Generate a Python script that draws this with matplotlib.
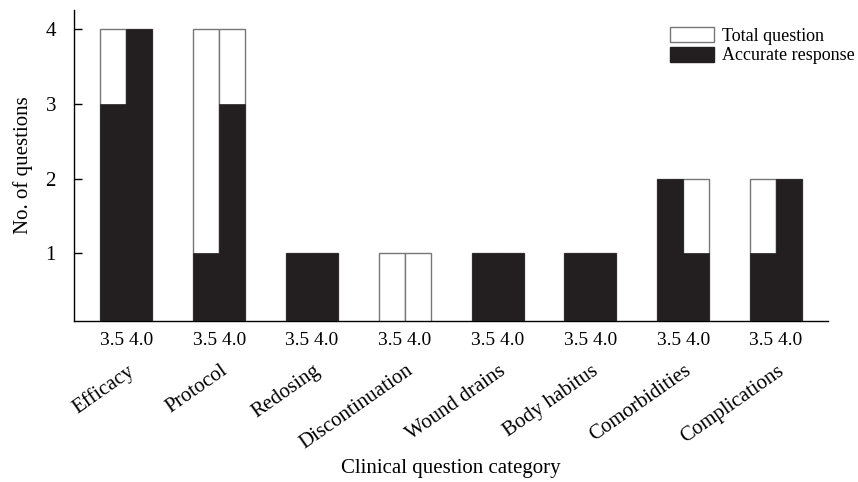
import matplotlib.pyplot as plt
import numpy as np

# Data
categories = ['Efficacy', 'Protocol', 'Redosing', 'Discontinuation',
              'Wound drains', 'Body habitus', 'Comorbidities', 'Complications']
versions = ['3.5', '4.0']
total_35 = [4, 4, 1, 1, 1, 1, 2, 2]
total_40 = [4, 4, 1, 1, 1, 1, 2, 2]
accurate_35 = [3, 1, 1, 0, 1, 1, 2, 1]
accurate_40 = [4, 3, 1, 0, 1, 1, 1, 2]

plt.rcParams['font.family'] = ['Liberation Serif', 'DejaVu Serif']
plt.rcParams['font.size'] = 15

black = '#231f20'
edge = '#777777'

fig = plt.figure(figsize=(8.58, 4.82), dpi=100)
ax = fig.add_axes([74/858, 1 - 321/482, (828 - 74)/858, (321 - 10)/482])

x = np.arange(len(categories))
w = 0.28
for off, tot, acc in [(-w/2, total_35, accurate_35), (w/2, total_40, accurate_40)]:
    ax.bar(x + off, tot, w, color='white', edgecolor=edge, linewidth=1.0, zorder=2)
    ax.bar(x + off, acc, w, color=black, edgecolor=black, linewidth=0.5, zorder=3)

# legend handles
h1 = plt.Rectangle((0, 0), 1, 1, facecolor='white', edgecolor=edge, linewidth=1.0)
h2 = plt.Rectangle((0, 0), 1, 1, facecolor=black, edgecolor=black)
ax.legend([h1, h2], ['Total question', 'Accurate response'], loc='upper right',
          bbox_to_anchor=(1.045, 0.968), frameon=False, fontsize=13,
          handlelength=2.45, handleheight=0.9, handletextpad=0.45,
          labelspacing=0.1, borderaxespad=0)

ax.set_xlim(-0.565, 7.56)
ax.set_ylim(0.09, 4.26)
ax.set_yticks([1, 2, 3, 4])
ax.tick_params(axis='y', direction='in', length=6, width=1, pad=13)

# one "3.5 4.0" label under each pair of bars
ax.set_xticks(x)
ax.set_xticklabels([' '.join(versions)] * len(x), fontsize=14)
ax.tick_params(axis='x', length=0, pad=8)

for s in ['top', 'right']:
    ax.spines[s].set_visible(False)
ax.spines['left'].set_linewidth(1.0)
ax.spines['bottom'].set_linewidth(1.0)

# rotated category labels
for i, c in enumerate(categories):
    ax.annotate(c, xy=(i, 0), xycoords=('data', 'axes fraction'),
                xytext=(8.5, -29), textcoords='offset points',
                rotation=35, ha='right', va='top')

ax.set_ylabel('No. of questions', labelpad=9)
fig.text(451/858, 1 - 469/482, 'Clinical question category', ha='center', va='center')

fig.savefig('out.png', dpi=100)
